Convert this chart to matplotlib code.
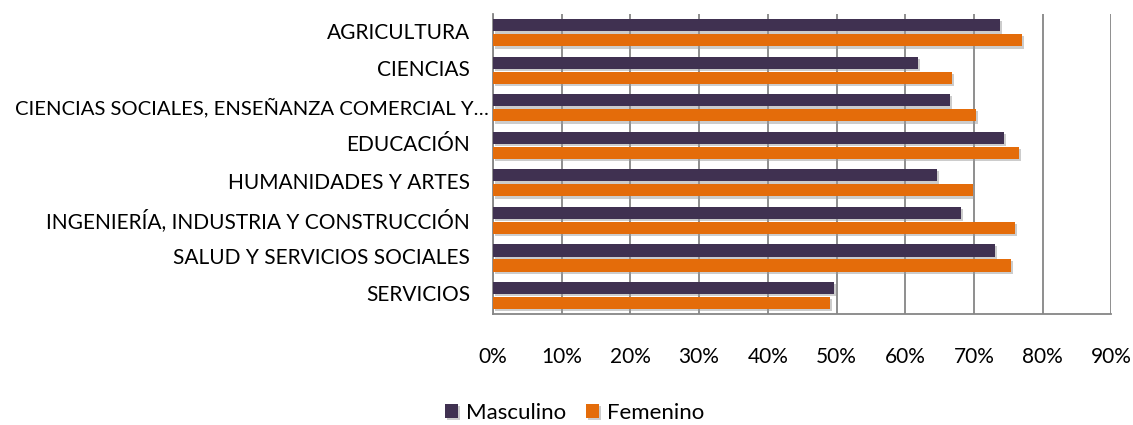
import matplotlib
matplotlib.use("Agg")
import matplotlib.pyplot as plt
import matplotlib.patheffects as pe
import numpy as np

categories = ["AGRICULTURA", "CIENCIAS", "CIENCIAS SOCIALES, ENSEÑANZA COMERCIAL Y…",
              "EDUCACIÓN", "HUMANIDADES Y ARTES", "INGENIERÍA, INDUSTRIA Y CONSTRUCCIÓN",
              "SALUD Y SERVICIOS SOCIALES", "SERVICIOS"]
masculino = [73.8, 61.8, 66.5, 74.3, 64.6, 68.1, 73.0, 49.6]
femenino = [77.0, 66.8, 70.3, 76.5, 69.8, 76.0, 75.4, 49.0]
xticks = [0, 10, 20, 30, 40, 50, 60, 70, 80, 90]

plt.rcParams['font.family'] = ['Lato', 'DejaVu Sans']

fig = plt.figure(figsize=(11.33, 4.25), dpi=100)
ax = fig.add_axes([0.435, 0.261, 0.546, 0.706])

y = np.arange(len(categories))
h = 0.33
shadow = [pe.SimplePatchShadow(offset=(1.5, -1.5), shadow_rgbFace='#9a9a9a', alpha=0.5), pe.Normal()]
b1 = ax.barh(y - 0.2, masculino, height=h, color='#403151', label='Masculino', zorder=3)
b2 = ax.barh(y + 0.2, femenino, height=h, color='#E46C0A', label='Femenino', zorder=3)
for b in list(b1) + list(b2):
    b.set_path_effects(shadow)

ax.set_xlim(0, 90)
ax.set_ylim(len(categories) - 0.5, -0.5)
ax.set_xticks(xticks)
ax.set_xticklabels([f"{t}%" for t in xticks])
ax.set_yticks(y)
ax.set_yticklabels([])
ax.tick_params(axis='x', length=0, pad=24, labelsize=15, colors='#000000')
ax.tick_params(axis='y', length=0)

for yi, cat in zip(y, categories):
    long = cat.endswith("…")
    ax.annotate(cat, xy=(0, yi), xycoords=('axes fraction', 'data'),
                xytext=(-3 if long else -16.5, 0), textcoords='offset points',
                ha='right', va='center', fontsize=14.6 if long else 15, color='#000000')

ax.xaxis.grid(True, color='#868686', linewidth=1.3, zorder=0)
ax.set_axisbelow(True)
for s in ['top', 'right']:
    ax.spines[s].set_visible(False)
for s in ['left', 'bottom']:
    ax.spines[s].set_color('#868686')
    ax.spines[s].set_linewidth(1.3)

fig.legend(handles=[b1, b2], labels=['Masculino', 'Femenino'], loc='center',
           bbox_to_anchor=(0.507, 0.028), ncol=2, frameon=False, fontsize=16,
           handlelength=0.6, handleheight=0.6, handletextpad=0.35, columnspacing=0.9)

fig.savefig("out.png", dpi=100)
